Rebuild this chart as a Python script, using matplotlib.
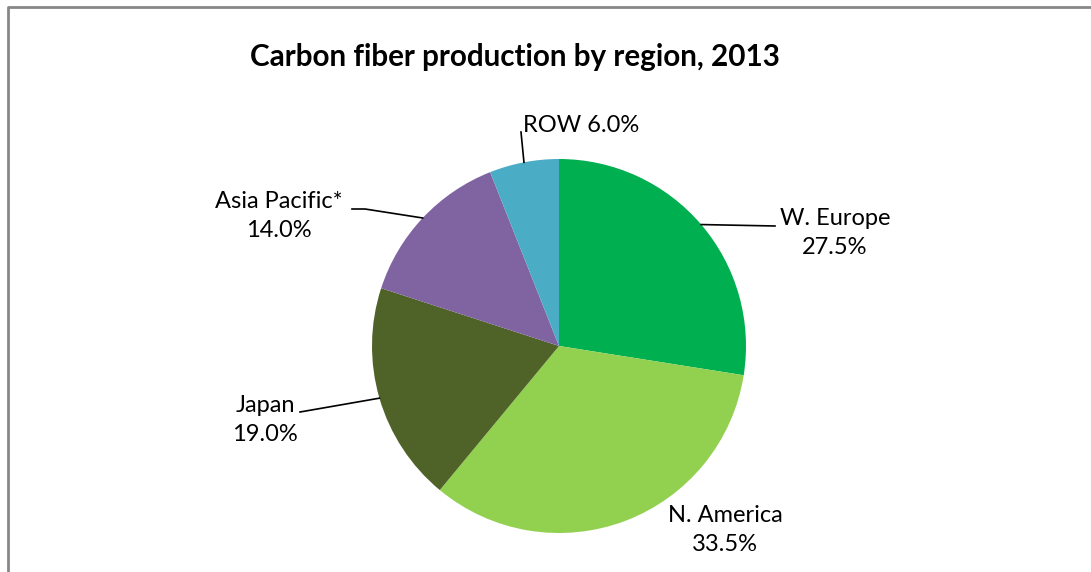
import matplotlib
matplotlib.use("Agg")
import matplotlib.pyplot as plt
import numpy as np

regions = ["W. Europe", "N. America", "Japan", "Asia Pacific*", "ROW"]
shares = [27.5, 33.5, 19.0, 14.0, 6.0]
colors = ["#00B050", "#92D050", "#4F6228", "#8064A2", "#4BACC6"]
title = "Carbon fiber production by region, 2013"

W, H = 1091, 572
fig = plt.figure(figsize=(W / 100, H / 100), dpi=100)
ax = fig.add_axes([0, 0, 1, 1])
ax.set_xlim(0, W)
ax.set_ylim(0, H)
ax.set_aspect("equal")
ax.axis("off")

plt.rcParams["font.family"] = ["Lato", "DejaVu Sans"]

cx, cy, r = 559, H - 346, 187
wedges, _ = ax.pie(shares, colors=colors, startangle=90, counterclock=False,
                   center=(cx, cy), radius=r, frame=True,
                   wedgeprops=dict(linewidth=0))
ax.set_xlim(0, W)
ax.set_ylim(0, H)
ax.axis("off")

# frame border
ax.plot([8, 8, W + 5], [-5, H - 7, H - 7], color="#878787", lw=2, solid_capstyle="butt")

ax.text(515, H - 57, title, ha="center", va="center", fontsize=21.3, fontweight="bold")

fs = 17
# label positions (pixel layout, top-down y) and leader-line elbow points
label_pos = {
    "W. Europe": (835, 233),
    "N. America": (725, 530),
    "Japan": (265, 420),
    "Asia Pacific*": (279, 216),
    "ROW": (581, 125),
}
leaders = {
    "W. Europe": [(775, 226)],
    "Japan": [(300, 412)],
    "Asia Pacific*": [(365, 209), (352, 209)],
    "ROW": [(521, 132)],
}

cum = 0
for name, val, w in zip(regions, shares, wedges):
    mid = cum + val / 2
    cum += val
    ang = np.deg2rad(90 - mid / 100 * 360)
    ex, ey = cx + r * np.cos(ang), cy + r * np.sin(ang)
    lx, ly = label_pos[name]
    if name == "ROW":
        txt = f"{name} {val:.1f}%"
    else:
        txt = f"{name}\n{val:.1f}%"
    ax.text(lx, H - ly, txt, ha="center", va="center", fontsize=fs,
            linespacing=1.42)
    if name in leaders:
        pts = [(ex, ey)] + [(px, H - py) for px, py in leaders[name]]
        xs, ys = zip(*pts)
        ax.plot(xs, ys, color="black", lw=1.2)

fig.savefig("out.png", dpi=100)
